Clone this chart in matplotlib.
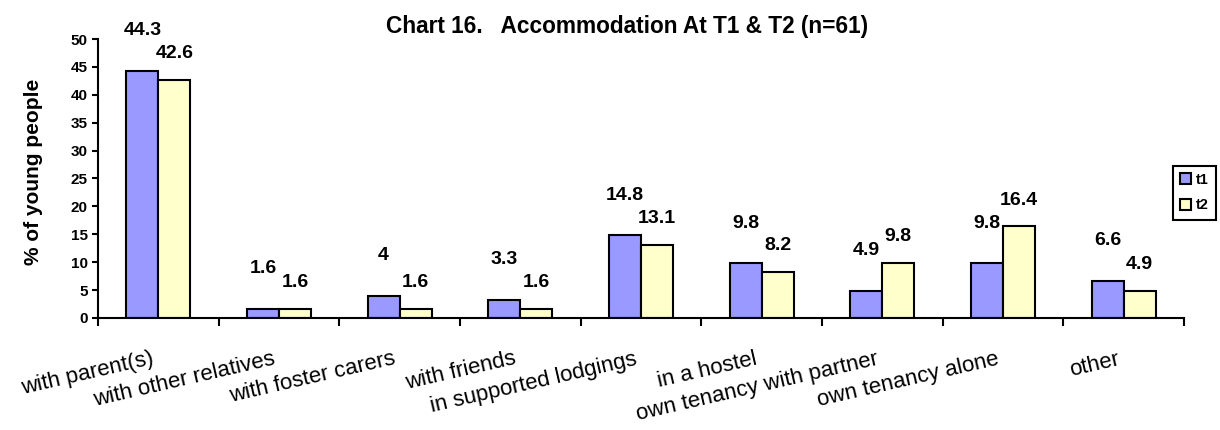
import numpy as np
import matplotlib
matplotlib.use('Agg')
import matplotlib.pyplot as plt
import matplotlib.transforms as mtransforms

plt.rcParams['font.family'] = ['Liberation Sans', 'DejaVu Sans']

categories = ['with parent(s)', 'with other relatives', 'with foster carers',
              'with friends', 'in supported lodgings', 'in a hostel',
              'own tenancy with partner', 'own tenancy alone', 'other']
t1 = [44.3, 1.6, 4, 3.3, 14.8, 9.8, 4.9, 9.8, 6.6]
t2 = [42.6, 1.6, 1.6, 1.6, 13.1, 8.2, 9.8, 16.4, 4.9]
t1_labels = ['44.3', '1.6', '4', '3.3', '14.8', '9.8', '4.9', '9.8', '6.6']
t2_labels = ['42.6', '1.6', '1.6', '1.6', '13.1', '8.2', '9.8', '16.4', '4.9']

fig = plt.figure(figsize=(12.2, 4.3), dpi=100)
ax = fig.add_axes([0.0803, 0.2605, 0.8902, 0.6488])

x = np.arange(len(categories))
w = 0.265
b1 = ax.bar(x - w / 2, t1, w, color='#9999FF', edgecolor='black', linewidth=1.5, label='t1')
b2 = ax.bar(x + w / 2, t2, w, color='#FFFFCC', edgecolor='black', linewidth=1.5, label='t2')

# value labels sit a fixed distance above the bar tops
for rect, lab in zip(b1, t1_labels):
    ax.annotate(lab, (rect.get_x() + rect.get_width() / 2, rect.get_height()),
                xytext=(0, 29), textcoords='offset points', ha='center', va='center',
                fontsize=14, fontweight='bold')
for rect, lab in zip(b2, t2_labels):
    ax.annotate(lab, (rect.get_x() + rect.get_width() / 2, rect.get_height()),
                xytext=(0, 19), textcoords='offset points', ha='center', va='center',
                fontsize=14, fontweight='bold')

ax.set_xlim(-0.5, len(categories) - 0.5)
ax.set_ylim(0, 50)
ax.set_yticks(np.arange(0, 51, 5))
ax.set_xticks(np.arange(len(categories) + 1) - 0.5)
ax.set_xticklabels([])
ax.set_xticks(x, minor=True)
ax.set_xticklabels(categories, minor=True, rotation=13, ha='right',
                   rotation_mode='anchor', fontsize=16)
ax.tick_params(axis='x', which='minor', length=0, pad=22)
ax.tick_params(axis='x', which='major', direction='out', length=6, width=1.5)
ax.tick_params(axis='y', direction='out', length=4, width=1.5, labelsize=11)
for t in ax.get_yticklabels():
    t.set_fontweight('bold')

for s in ['top', 'right']:
    ax.spines[s].set_visible(False)
for s in ['left', 'bottom']:
    ax.spines[s].set_linewidth(1.5)

ax.set_ylabel('% of young people', fontsize=15, fontweight='bold')
ax.yaxis.set_label_coords(-0.051, 0.523)

fig.text(0.514, 0.938, 'Chart 16.   Accommodation At T1 & T2 (n=61)',
         ha='center', va='center', fontsize=16.3, fontweight='bold')

leg = fig.legend(handles=[b1, b2], loc='center left', bbox_to_anchor=(0.9615, 0.552),
                 fancybox=False, edgecolor='black', framealpha=1,
                 handlelength=0.75, handleheight=0.75, handletextpad=0.3,
                 borderpad=0.5, labelspacing=0.8, borderaxespad=0,
                 prop={'size': 10.5, 'weight': 'bold'})
leg.get_frame().set_linewidth(1.5)

# shift tick labels so right ends sit just left of category centre
offset = mtransforms.ScaledTranslation(-7 / 100, 0, fig.dpi_scale_trans)
for lab in ax.get_xticklabels(minor=True):
    lab.set_transform(lab.get_transform() + offset)

fig.savefig('out.png', dpi=100)
